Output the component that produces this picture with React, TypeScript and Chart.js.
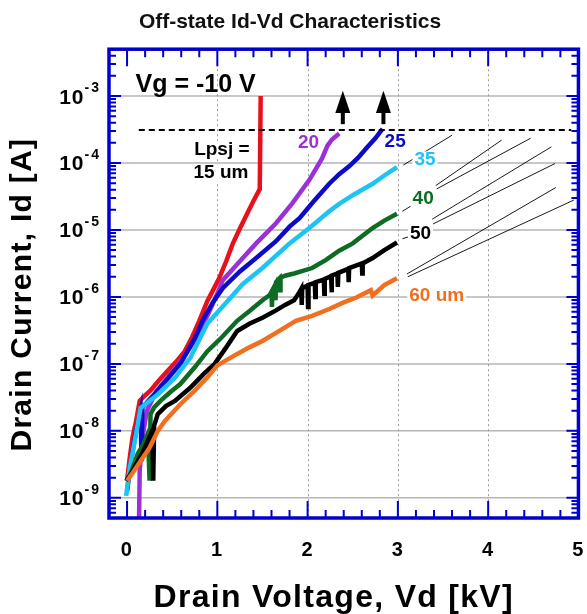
import React, { useEffect, useRef } from 'react';
import { Chart, registerables } from 'chart.js';

Chart.register(...registerables);

const FONT = '"Liberation Sans", Arial, Helvetica, sans-serif';

// Drain voltage (kV) and drain current (A) per Lpsj
const v15 = [0, 0.03, 0.06, 0.10, 0.14, 0.20, 0.26, 0.35, 0.45, 0.55, 0.64, 0.72, 0.80, 0.89, 0.96, 1.02, 1.10, 1.17, 1.25, 1.33, 1.40, 1.47, 1.48];
const i15 = [1.8e-9, 4.0e-9, 7.9e-9, 1.4e-8, 2.8e-8, 3.4e-8, 4.0e-8, 5.6e-8, 7.9e-8, 1.1e-7, 1.55e-7, 2.5e-7, 4.4e-7, 8.7e-7, 1.32e-6, 1.9e-6, 3.47e-6, 6.2e-6, 1.05e-5, 1.74e-5, 2.7e-5, 4.07e-5, 1.0e-3];

const v20 = [0.13, 0.14, 0.17, 0.22, 0.32, 0.45, 0.60, 0.75, 0.90, 1.00, 1.06, 1.25, 1.43, 1.65, 1.83, 2.02, 2.16, 2.22, 2.27, 2.35];
const i20 = [2.5e-10, 2.5e-9, 7.9e-9, 2.0e-8, 3.8e-8, 6.3e-8, 1.12e-7, 2.24e-7, 5.6e-7, 1.12e-6, 1.78e-6, 3.4e-6, 6.3e-6, 1.26e-5, 2.5e-5, 5.6e-5, 1.17e-4, 1.82e-4, 2.24e-4, 2.75e-4];

const v25 = [0, 0.05, 0.10, 0.15, 0.16, 0.17, 0.30, 0.45, 0.60, 0.75, 0.84, 0.95, 1.06, 1.25, 1.43, 1.65, 1.80, 1.91, 2.08, 2.24, 2.35, 2.46, 2.56, 2.65, 2.75, 2.83];
const i25 = [1.26e-9, 4.0e-9, 1.0e-8, 2.0e-8, 3.5e-9, 2.24e-8, 3.5e-8, 6.0e-8, 1.05e-7, 2.4e-7, 4.5e-7, 8.3e-7, 1.35e-6, 2.4e-6, 3.8e-6, 6.8e-6, 1.12e-5, 1.5e-5, 2.8e-5, 4.9e-5, 6.8e-5, 8.9e-5, 1.2e-4, 1.66e-4, 2.34e-4, 3.24e-4];

const v35 = [-0.01, 0.03, 0.10, 0.15, 0.34, 0.53, 0.70, 0.89, 1.06, 1.28, 1.50, 1.80, 2.02, 2.24, 2.35, 2.50, 2.72, 2.85, 2.99];
const i35 = [1.07e-9, 2.8e-9, 9.1e-9, 2.2e-8, 3.5e-8, 6.2e-8, 1.23e-7, 4.0e-7, 7.2e-7, 1.55e-6, 2.7e-6, 6.3e-6, 1.07e-5, 1.9e-5, 2.45e-5, 3.3e-5, 4.9e-5, 6.5e-5, 8.7e-5];

const v40 = [0.0, 0.05, 0.12, 0.18, 0.23, 0.25, 0.26, 0.30, 0.37, 0.48, 0.59, 0.75, 0.89, 1.05, 1.22, 1.36, 1.50, 1.58, 1.60, 1.605, 1.61, 1.64, 1.645, 1.65, 1.69, 1.695, 1.70, 1.76, 1.85, 2.05, 2.2, 2.35, 2.5, 2.72, 2.85, 2.99];
const i40 = [1.8e-9, 2.5e-9, 4.6e-9, 6.3e-9, 9.1e-9, 1.8e-9, 1.8e-8, 2.24e-8, 2.8e-8, 3.8e-8, 5.0e-8, 8.9e-8, 1.55e-7, 2.5e-7, 4.4e-7, 6.2e-7, 8.9e-7, 1.07e-6, 1.2e-6, 7.1e-7, 1.26e-6, 1.51e-6, 8.9e-7, 1.66e-6, 1.9e-6, 1.26e-6, 1.95e-6, 2.09e-6, 2.24e-6, 2.7e-6, 3.55e-6, 4.9e-6, 6.3e-6, 1.07e-5, 1.38e-5, 1.74e-5];

const v50 = [-0.01, 0.04, 0.12, 0.18, 0.23, 0.28, 0.29, 0.30, 0.34, 0.43, 0.53, 0.70, 0.85, 0.97, 1.10, 1.22, 1.36, 1.50, 1.65, 1.75, 1.85, 1.90, 1.93, 1.935, 1.94, 2.00, 2.005, 2.01, 2.08, 2.085, 2.09, 2.18, 2.185, 2.19, 2.26, 2.265, 2.27, 2.33, 2.335, 2.34, 2.45, 2.455, 2.46, 2.60, 2.605, 2.61, 2.72, 2.85, 2.99];
const i50 = [1.8e-9, 2.24e-9, 3.55e-9, 5.0e-9, 7.1e-9, 1.0e-8, 1.8e-9, 1.2e-8, 1.78e-8, 2.34e-8, 2.8e-8, 4.4e-8, 7.1e-8, 1.0e-7, 1.78e-7, 3.1e-7, 4.0e-7, 4.9e-7, 6.3e-7, 7.6e-7, 8.9e-7, 1.12e-6, 1.32e-6, 7.6e-7, 1.35e-6, 1.48e-6, 7.1e-7, 1.51e-6, 1.62e-6, 1.0e-6, 1.66e-6, 1.82e-6, 1.12e-6, 1.86e-6, 2.04e-6, 1.17e-6, 2.09e-6, 2.24e-6, 1.41e-6, 2.29e-6, 2.63e-6, 1.66e-6, 2.69e-6, 3.16e-6, 2.24e-6, 3.16e-6, 3.8e-6, 5.0e-6, 6.5e-6];

const v60 = [0.0, 0.05, 0.15, 0.25, 0.34, 0.42, 0.59, 0.75, 0.89, 1.0, 1.22, 1.36, 1.50, 1.70, 1.87, 2.05, 2.24, 2.4, 2.54, 2.7, 2.72, 2.85, 2.99];
const i60 = [1.8e-9, 2.24e-9, 3.55e-9, 5.6e-9, 1.0e-8, 1.41e-8, 2.5e-8, 4.0e-8, 6.3e-8, 9.5e-8, 1.41e-7, 1.78e-7, 2.2e-7, 3.2e-7, 4.4e-7, 5.2e-7, 6.6e-7, 8.3e-7, 9.8e-7, 1.26e-6, 1.05e-6, 1.5e-6, 1.9e-6];

const seriesNames = ['15 um', '20 um', '25 um', '35 um', '40 um', '50 um', '60 um'];
const seriesV = [v15, v20, v25, v35, v40, v50, v60];
const seriesI = [i15, i20, i25, i35, i40, i50, i60];
const seriesColors = ['#e8101a', '#9b30d9', '#0c0cc8', '#1cc4f6', '#0d6b23', '#000000', '#f07020'];

// axes
const xMin = -0.2;
const xMax = 5;
const yMin = 5e-10;
const yMax = 5e-3;
const xTickValues = [0, 1, 2, 3, 4, 5];
const xGridValues = [1, 2, 3, 4];
const yDecades = [1e-9, 1e-8, 1e-7, 1e-6, 1e-5, 1e-4, 1e-3];
const yExponents = ['-9', '-8', '-7', '-6', '-5', '-4', '-3'];

// annotations
const cutoffCurrent = 3.1e-4;
const cutoffV = [0.13, 4.92];
const arrowV = [2.39, 2.84];
const arrowBaseI = 3.8e-4;
const arrowHeadI = 5.6e-4;
const arrowTipI = 1.2e-3;

const ptrV0 = [3.06, 3.42, 3.43, 3.38, 3.39, 3.10, 3.11, 3.05, 3.05];
const ptrI0 = [9.3e-5, 4.6e-5, 4.1e-5, 1.45e-5, 1.23e-5, 2.2e-6, 2.0e-6, 1.9e-5, 7.4e-6];
const ptrV1 = [3.60, 4.15, 4.47, 4.70, 4.74, 4.75, 4.95, 3.15, 3.12];
const ptrI1 = [2.6e-4, 2.2e-4, 2.34e-4, 1.74e-4, 9.8e-5, 4.3e-5, 2.8e-5, 2.3e-5, 7.9e-6];

const labelText = ['Vg = -10 V', 'Lpsj =', '15 um', '20', '25', '35', '40', '50', '60 um'];
const labelV = [0.76, 1.05, 1.04, 2.01, 2.97, 3.30, 3.28, 3.25, 3.43];
const labelI = [1.46e-3, 1.56e-4, 7.1e-5, 2.0e-4, 2.05e-4, 1.11e-4, 2.9e-5, 8.7e-6, 1.03e-6];
const labelColor = ['#000', '#000', '#000', '#9b30d9', '#0c0cc8', '#1cc4f6', '#0d6b23', '#000', '#f07020'];
const labelSize = [25, 19, 19, 19, 19, 19, 19, 19, 19];

const FRAME = '#0000cd';
const X_TITLE_SHIFT = -10;
const Y_TITLE_SHIFT = 11;

const decorPlugin = {
  id: 'decor',
  beforeDraw(chart: any) {
    chart.ctx.letterSpacing = '0px';
  },
  beforeDatasetsDraw(chart: any) {
    const { ctx, chartArea: a, scales } = chart;
    const x = scales.x, y = scales.y;
    ctx.save();
    ctx.strokeStyle = '#b5b5b5';
    ctx.lineWidth = 1.5;
    yDecades.forEach((v) => {
      const py = y.getPixelForValue(v);
      ctx.beginPath();
      ctx.moveTo(a.left, py);
      ctx.lineTo(a.right, py);
      ctx.stroke();
    });
    ctx.strokeStyle = '#9a9a9a';
    ctx.lineWidth = 1;
    ctx.setLineDash([2, 3]);
    xGridValues.forEach((v) => {
      const px = Math.round(x.getPixelForValue(v)) + 0.5;
      ctx.beginPath();
      ctx.moveTo(px, a.top);
      ctx.lineTo(px, a.bottom);
      ctx.stroke();
    });
    ctx.restore();
  },
  afterDatasetsDraw(chart: any) {
    const { ctx, chartArea: a, scales } = chart;
    const x = scales.x, y = scales.y;
    ctx.save();

    // cutoff dashed line
    ctx.strokeStyle = '#000';
    ctx.lineWidth = 2;
    ctx.setLineDash([6, 4]);
    const cy = y.getPixelForValue(cutoffCurrent);
    ctx.beginPath();
    ctx.moveTo(x.getPixelForValue(cutoffV[0]), cy);
    ctx.lineTo(x.getPixelForValue(cutoffV[1]), cy);
    ctx.stroke();
    ctx.setLineDash([]);

    // arrows
    arrowV.forEach((v) => {
      const px = x.getPixelForValue(v);
      const yb = y.getPixelForValue(arrowBaseI);
      const yh = y.getPixelForValue(arrowHeadI);
      const yt = y.getPixelForValue(arrowTipI);
      ctx.fillStyle = '#000';
      ctx.fillRect(px - 2, yh - 1, 4, yb - yh + 1);
      ctx.beginPath();
      ctx.moveTo(px, yt);
      ctx.lineTo(px - 7.5, yh);
      ctx.lineTo(px + 7.5, yh);
      ctx.closePath();
      ctx.fill();
    });

    // thin pointer lines
    ctx.strokeStyle = '#000';
    ctx.lineWidth = 0.9;
    ptrV0.forEach((v, i) => {
      ctx.beginPath();
      ctx.moveTo(x.getPixelForValue(v), y.getPixelForValue(ptrI0[i]));
      ctx.lineTo(x.getPixelForValue(ptrV1[i]), y.getPixelForValue(ptrI1[i]));
      ctx.stroke();
    });

    // labels
    labelText.forEach((t, i) => {
      const px = x.getPixelForValue(labelV[i]);
      const py = y.getPixelForValue(labelI[i]);
      const s = labelSize[i];
      ctx.font = `bold ${s}px ${FONT}`;
      const w = ctx.measureText(t).width;
      if (i > 0) {
        ctx.fillStyle = '#fff';
        ctx.fillRect(px - w / 2 - 2, py - s * 0.45, w + 4, s * 0.9);
      }
      ctx.fillStyle = labelColor[i];
      ctx.textAlign = 'center';
      ctx.textBaseline = 'middle';
      ctx.fillText(t, px, py);
    });

    // frame ticks
    ctx.strokeStyle = FRAME;
    ctx.lineWidth = 2;
    for (let n = -10; n <= -3; n++) {
      for (let k = 1; k <= 9; k++) {
        const v = k * Math.pow(10, n);
        if (v <= yMin * 1.0001 || v >= yMax * 0.9999) continue;
        const py = y.getPixelForValue(v);
        const len = k === 1 ? 12 : 7;
        ctx.beginPath();
        ctx.moveTo(a.left, py);
        ctx.lineTo(a.left + len, py);
        ctx.moveTo(a.right, py);
        ctx.lineTo(a.right - len, py);
        ctx.stroke();
      }
    }
    for (let i = 0; i < 25; i++) {
      const v = i / 5;
      const px = x.getPixelForValue(v);
      const len = i % 5 === 0 ? 17 : 8;
      ctx.beginPath();
      ctx.moveTo(px, a.bottom);
      ctx.lineTo(px, a.bottom - len);
      ctx.moveTo(px, a.top);
      ctx.lineTo(px, a.top + len);
      ctx.stroke();
    }
    ctx.lineWidth = 3.5;
    ctx.strokeRect(a.left, a.top, a.right - a.left, a.bottom - a.top);

    // y tick labels 10^n
    ctx.fillStyle = '#000';
    ctx.textAlign = 'right';
    ctx.textBaseline = 'alphabetic';
    yDecades.forEach((v, i) => {
      const py = y.getPixelForValue(v);
      const right = a.left - 8;
      ctx.letterSpacing = '2px';
      ctx.font = `bold 14px ${FONT}`;
      const ws = ctx.measureText(yExponents[i]).width;
      ctx.fillText(yExponents[i], right, py - 4);
      ctx.letterSpacing = '1px';
      ctx.font = `bold 21px ${FONT}`;
      ctx.fillText('10', right - ws, py + 7.5);
    });
    ctx.restore();

    // the axis layers (z > 0) are drawn after this hook: widen their lettering
    // and nudge the axis-title anchors (pixel mapping stays configured as is)
    ctx.letterSpacing = '1.3px';
    x.left += X_TITLE_SHIFT;
    x.right += X_TITLE_SHIFT;
    y.top += Y_TITLE_SHIFT;
    y.bottom += Y_TITLE_SHIFT;
  },
  afterDraw(chart: any) {
    const x = chart.scales.x, y = chart.scales.y;
    x.left -= X_TITLE_SHIFT;
    x.right -= X_TITLE_SHIFT;
    y.top -= Y_TITLE_SHIFT;
    y.bottom -= Y_TITLE_SHIFT;
    chart.ctx.letterSpacing = '0px';
  },
};

export default function App() {
  const ref = useRef<HTMLCanvasElement>(null);
  useEffect(() => {
    if (!ref.current) return;
    const datasets = seriesNames.map((name, s) => ({
      label: name,
      data: seriesV[s].map((v, i) => ({ x: v, y: seriesI[s][i] })),
      borderColor: seriesColors[s],
      backgroundColor: seriesColors[s],
      borderWidth: 4.5,
      pointRadius: 0,
      tension: 0,
      fill: false,
      order: 7 - s,
    }));
    const chart = new Chart(ref.current, {
      type: 'line',
      data: { datasets },
      options: {
        animation: false,
        responsive: false,
        devicePixelRatio: 1,
        layout: { padding: { left: 0, right: 7, top: 0, bottom: 0 } },
        plugins: {
          legend: { display: false },
          tooltip: { enabled: false },
          title: {
            display: true,
            text: 'Off-state Id-Vd Characteristics',
            color: '#111',
            font: { family: FONT, size: 21, weight: 'bold' },
            padding: { top: 10, bottom: 14 },
          },
        },
        scales: {
          x: {
            type: 'linear',
            min: xMin,
            max: xMax,
            afterBuildTicks: (scale: any) => {
              scale.ticks = xTickValues.map((v) => ({ value: v }));
            },
            afterFit: (scale: any) => {
              scale.height = 96;
            },
            grid: { display: false, drawTicks: true, tickLength: 17, z: 1 },
            border: { display: false, z: 1 },
            ticks: {
              z: 1,
              color: '#000',
              padding: 3,
              font: { family: FONT, size: 20, weight: 'bold' },
              callback: (v: any) => String(v),
              maxRotation: 0,
            },
            title: {
              display: true,
              text: 'Drain Voltage, Vd [kV]',
              color: '#000',
              font: { family: FONT, size: 32, weight: 'bold', lineHeight: 1 },
              padding: { top: 0, bottom: 0 },
            },
          },
          y: {
            type: 'logarithmic',
            min: yMin,
            max: yMax,
            afterFit: (scale: any) => {
              scale.width = 109;
            },
            grid: { display: false, drawTicks: false, z: 1 },
            border: { display: false, z: 1 },
            ticks: { display: false, z: 1 },
            title: {
              display: true,
              text: 'Drain Current, Id [A]',
              color: '#000',
              font: { family: FONT, size: 30, weight: 'bold', lineHeight: 1 },
              padding: { top: 8, bottom: 0 },
            },
          },
        },
      },
      plugins: [decorPlugin],
    } as any);
    return () => chart.destroy();
  }, []);
  return (
    <div style={{ position: 'fixed', left: 0, top: 0, width: 587, height: 614, background: '#fff' }}>
      <canvas ref={ref} width={587} height={614} style={{ display: 'block', width: 587, height: 614 }} />
    </div>
  );
}
